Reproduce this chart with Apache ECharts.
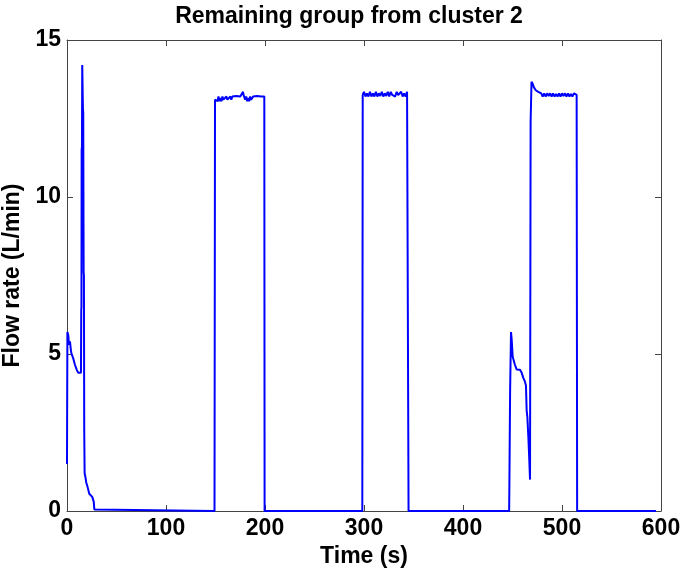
<!DOCTYPE html>
<html>
<head>
<meta charset="utf-8">
<script src="https://cdn.jsdelivr.net/npm/echarts@6/dist/echarts.min.js"></script>
<style>html,body{margin:0;padding:0;background:#fff}#c{width:685px;height:571px}</style>
</head>
<body>
<div id="c"></div>
<script>
// Tick labels
const xTicks = [0, 100, 200, 300, 400, 500, 600];
const yTicks = [0, 5, 10, 15];

// Segment 1: start-up transient and spike (0-28 s)
const seg1Time = [0, 0.4, 1.3, 2, 3, 4, 4.7, 5.5, 6.4, 7.2, 8.1, 9, 9.8, 10.6, 11.4, 12.3, 13.1, 14.1,
  14.4, 14.6, 14.8, 15.1, 15.4, 15.8, 16.1, 16.4, 16.8, 17.1, 17.4, 17.8, 18.5, 19.5, 20.5, 21.5, 22.5, 23.5, 24.5, 25.5, 26.5, 27, 27.6, 28];
const seg1Flow = [1.5, 5.7, 5.6, 5.3, 5.4, 5.1, 5.0, 5.05, 4.85, 4.8, 4.65, 4.6, 4.5, 4.45, 4.4, 4.45, 4.35, 4.4,
  6.4, 6.5, 11.5, 11.6, 14.2, 14.2, 12.8, 12.7, 7.6, 7.5, 2.6, 1.2, 1.1, 0.9, 0.8, 0.75, 0.55, 0.5, 0.5, 0.45, 0.45, 0.3, 0.05, 0];

// Segment 2: first plateau (149-200 s)
const seg2Time = [149, 149.5, 151, 152, 153, 154, 155, 156, 157, 158, 159, 160, 161, 162, 163, 164, 165, 166, 167, 169, 171, 173, 175, 177, 177.8, 178.3, 179, 180, 181, 182, 183, 184, 185, 186, 187, 188, 190, 192, 194, 196, 198, 199.3, 199.6];
const seg2Flow = [0, 13.1, 13.15, 13.05, 13.2, 13.05, 13.15, 13.05, 13.2, 13.1, 13.15, 13.05, 13.2, 13.1, 13.15, 13.05, 13.2, 13.1, 13.2, 13.2, 13.22, 13.2, 13.2, 13.22, 13.35, 13.25, 13.2, 13.1, 13.2, 13.05, 13.15, 13.05, 13.2, 13.1, 13.15, 13.2, 13.2, 13.22, 13.2, 13.2, 13.2, 13.2, 0];

// Segment 3: second plateau (298-346 s)
const seg3Time = [298.3, 298.7, 300, 301.5, 303, 304.5, 306, 307.5, 309, 310.5, 312, 313.5, 315, 316.5, 318, 319.5, 321, 322.5, 324, 325.5, 327, 328.5, 330, 331.5, 333, 334.5, 336, 337.5, 339, 340.5, 342, 343.5, 344.6, 345];
const seg3Flow = [0, 13.25, 13.35, 13.2, 13.3, 13.2, 13.35, 13.2, 13.3, 13.2, 13.35, 13.2, 13.3, 13.22, 13.35, 13.2, 13.3, 13.22, 13.35, 13.2, 13.35, 13.25, 13.3, 13.2, 13.35, 13.25, 13.2, 13.35, 13.2, 13.3, 13.2, 13.35, 13.3, 0];

// Segment 4: transient and third plateau (446-516 s)
const seg4Time = [446.6, 446.9, 447.6, 448.5, 449.2, 450.2, 452.5, 454.2, 457.6, 459.3, 460.9, 462.6, 463.6, 464.3, 465, 466, 467, 467.7,
  468.3, 469.2, 470.5, 471.5, 472.5, 473.5, 475, 476, 477.5, 479, 480.5, 482, 483.5, 485, 486.5, 488, 489.5, 491, 492.5, 494, 495.5, 497, 498.5, 500, 501.5, 503, 504.5, 506, 507.5, 509, 510.5, 512, 514, 514.8, 515.3];
const seg4Flow = [0, 1.0, 3.85, 5.7, 5.45, 4.91, 4.65, 4.51, 4.5, 4.4, 4.24, 4.12, 4.0, 3.2, 3.0, 2.37, 1.6, 1.0,
  12.4, 13.67, 13.6, 13.5, 13.55, 13.4, 13.45, 13.35, 13.4, 13.3, 13.2, 13.3, 13.2, 13.3, 13.22, 13.3, 13.2, 13.3, 13.2, 13.28, 13.2, 13.3, 13.2, 13.3, 13.22, 13.3, 13.2, 13.3, 13.2, 13.28, 13.2, 13.3, 13.25, 13.25, 0];

// Segment 5: end of record
const seg5Time = [595];
const seg5Flow = [0];

const times = [].concat(seg1Time, seg2Time, seg3Time, seg4Time, seg5Time);
const flows = [].concat(seg1Flow, seg2Flow, seg3Flow, seg4Flow, seg5Flow);
const points = times.map((t, i) => [t, flows[i]]);

const chart = echarts.init(document.getElementById('c'), null, {renderer: 'canvas'});
const FONT = '"Liberation Sans", Arial, Helvetica, sans-serif';
const axisCommon = {
  type: 'value',
  axisLine: {show: true, onZero: false, lineStyle: {color: '#444', width: 1}},
  axisTick: {show: true, inside: true, length: 6, lineStyle: {color: '#444', width: 1}},
  splitLine: {show: false}
};
chart.setOption({
  animation: false,
  backgroundColor: '#fff',
  title: {
    text: 'Remaining group from cluster 2',
    left: 344, top: 0, textAlign: 'center',
    textStyle: {fontFamily: FONT, fontWeight: 'bold', fontSize: 23, color: '#000'}
  },
  grid: {left: 67, right: 24, top: 40, bottom: 60, containLabel: false, outerBoundsMode: 'none'},
  xAxis: [
    Object.assign({}, axisCommon, {
      position: 'bottom', min: xTicks[0], max: xTicks[xTicks.length - 1], interval: 100,
      name: 'Time (s)', nameLocation: 'middle', nameGap: 30,
      nameTextStyle: {fontFamily: FONT, fontWeight: 'bold', fontSize: 23, color: '#000'},
      axisLabel: {show: true, margin: 6, fontFamily: FONT, fontWeight: 'bold', fontSize: 23, color: '#000'}
    }),
    Object.assign({}, axisCommon, {
      position: 'top', min: xTicks[0], max: xTicks[xTicks.length - 1], interval: 100,
      axisLabel: {show: false}
    })
  ],
  yAxis: [
    Object.assign({}, axisCommon, {
      position: 'left', min: yTicks[0], max: yTicks[yTicks.length - 1], interval: 5,
      name: 'Flow rate (L/min)', nameLocation: 'middle', nameGap: 42, nameRotate: 90,
      nameTextStyle: {fontFamily: FONT, fontWeight: 'bold', fontSize: 23, color: '#000'},
      axisLabel: {show: true, margin: 6, fontFamily: FONT, fontWeight: 'bold', fontSize: 23, color: '#000'}
    }),
    Object.assign({}, axisCommon, {
      position: 'right', min: yTicks[0], max: yTicks[yTicks.length - 1], interval: 5,
      axisLabel: {show: false}
    })
  ],
  series: [{
    type: 'line',
    xAxisIndex: 0, yAxisIndex: 0,
    data: points,
    showSymbol: false,
    symbol: 'none',
    lineStyle: {color: '#0000ff', width: 2},
    z: 3
  }]
});
</script>
</body>
</html>
